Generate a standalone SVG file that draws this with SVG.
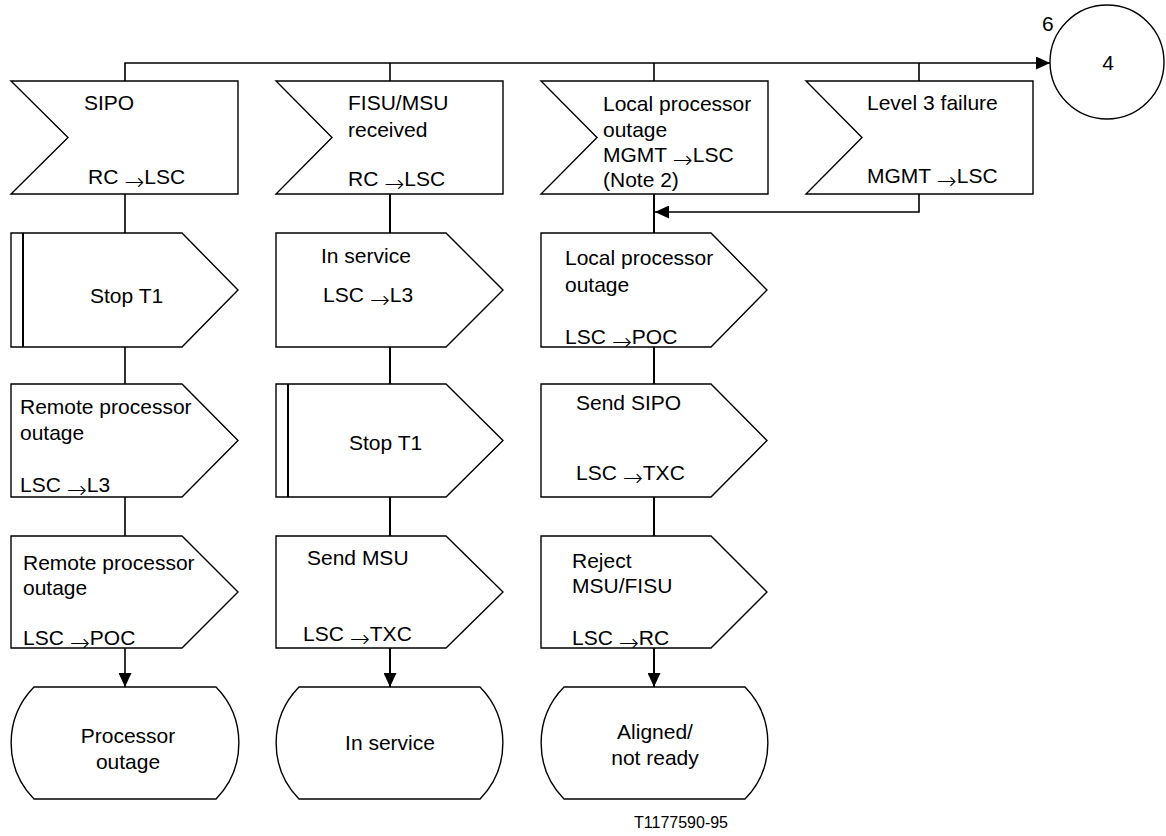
<svg xmlns="http://www.w3.org/2000/svg" width="1166" height="836" viewBox="0 0 1166 836">
<style>
.s{fill:#fff;stroke:#000;stroke-width:1.4}
.c{fill:none;stroke:#000;stroke-width:1.6}
.t{font-family:"Liberation Sans",Arial,sans-serif;font-size:21px;fill:#000}
.m{text-anchor:middle}
.a{font-family:"DejaVu Sans",sans-serif;font-size:24px;font-weight:200}
.f{font-family:"Liberation Sans",Arial,sans-serif;font-size:16px;fill:#000}
</style>
<defs>
<marker id="ah" viewBox="0 0 14 13" refX="14" refY="6.5" markerWidth="14" markerHeight="13" markerUnits="userSpaceOnUse" orient="auto">
<path d="M0,0 L14,6.5 L0,13 Z" fill="#000"/>
</marker>
</defs>
<g id="connectors">
<path class="c" d="M125,81 V63 H1050" marker-end="url(#ah)"/>
<path class="c" d="M390,63 V81 M654,63 V81 M919,63 V81"/>
<path class="c" d="M919,194 V212 H655" marker-end="url(#ah)"/>
<path class="c" d="M125,194 V233 M125,347 V384 M125,497 V536"/>
<path class="c" d="M390,194 V233 M390,347 V384 M390,497 V536" style="stroke-width:2"/>
<path class="c" d="M654,194 V233 M654,347 V384 M654,497 V536" style="stroke-width:2"/>
<path class="c" d="M125,648 V687" marker-end="url(#ah)"/>
<path class="c" d="M390,648 V687" marker-end="url(#ah)" style="stroke-width:2"/>
<path class="c" d="M654,648 V687" marker-end="url(#ah)" style="stroke-width:2"/>
</g>
<g id="connector-label">
<text class="t" x="1042" y="31">6</text>
</g>
<g id="conn4">
<circle class="s" cx="1107" cy="62" r="57"/>
<text class="t m" x="1108" y="70">4</text>
</g>
<g id="in-sipo">
<path class="s" d="M11,81 H238 V194 H11 L68,137.5 Z"/>
<text class="t" x="84" y="110">SIPO</text>
<text class="t" x="88" y="184">RC <tspan class="a" dy="6">→</tspan><tspan dy="-6">LSC</tspan></text>
</g>
<g id="in-fisu">
<path class="s" d="M276,81 H503 V194 H276 L332,137.5 Z"/>
<text class="t" x="348" y="110">FISU/MSU</text>
<text class="t" x="348" y="137">received</text>
<text class="t" x="348" y="186">RC <tspan class="a" dy="6">→</tspan><tspan dy="-6">LSC</tspan></text>
</g>
<g id="in-lpo">
<path class="s" d="M541,81 H768 V194 H541 L597,137.5 Z"/>
<text class="t" x="603" y="111">Local processor</text>
<text class="t" x="603" y="137">outage</text>
<text class="t" x="603" y="162">MGMT <tspan class="a" dy="6">→</tspan><tspan dy="-6">LSC</tspan></text>
<text class="t" x="603" y="187">(Note 2)</text>
</g>
<g id="in-l3f">
<path class="s" d="M806,81 H1033 V194 H806 L862,137.5 Z"/>
<text class="t" x="867" y="110">Level 3 failure</text>
<text class="t" x="867" y="183">MGMT <tspan class="a" dy="6">→</tspan><tspan dy="-6">LSC</tspan></text>
</g>
<g id="c1-stop">
<path class="s" d="M11,233 H182 L238,290 L182,347 H11 Z"/>
<path class="c" d="M23,233 V347" style="stroke-width:2"/>
<text class="t" x="90" y="303">Stop T1</text>
</g>
<g id="c1-rpo-l3">
<path class="s" d="M11,384 H182 L238,440.5 L182,497 H11 Z"/>
<text class="t" x="20" y="414">Remote processor</text>
<text class="t" x="20" y="440">outage</text>
<text class="t" x="20" y="492">LSC <tspan class="a" dy="6">→</tspan><tspan dy="-6">L3</tspan></text>
</g>
<g id="c1-rpo-poc">
<path class="s" d="M11,536 H182 L238,592 L182,648 H11 Z"/>
<text class="t" x="23" y="570">Remote processor</text>
<text class="t" x="23" y="595">outage</text>
<text class="t" x="23" y="645">LSC <tspan class="a" dy="6">→</tspan><tspan dy="-6">POC</tspan></text>
</g>
<g id="c1-state">
<path class="s" d="M34,687 H216 A80,80 0 0 1 216,799 H34 A80,80 0 0 1 34,687 Z"/>
<text class="t m" x="128" y="743">Processor</text>
<text class="t m" x="128" y="769">outage</text>
</g>
<g id="c2-insvc">
<path class="s" d="M276,233 H446 L503,290 L446,347 H276 Z"/>
<text class="t" x="321" y="263">In service</text>
<text class="t" x="323" y="302">LSC <tspan class="a" dy="6">→</tspan><tspan dy="-6">L3</tspan></text>
</g>
<g id="c2-stop">
<path class="s" d="M276,384 H446 L503,440.5 L446,497 H276 Z"/>
<path class="c" d="M288,384 V497" style="stroke-width:2"/>
<text class="t" x="349" y="450">Stop T1</text>
</g>
<g id="c2-send">
<path class="s" d="M276,536 H446 L503,592 L446,648 H276 Z"/>
<text class="t" x="307" y="565">Send MSU</text>
<text class="t" x="303" y="641">LSC <tspan class="a" dy="6">→</tspan><tspan dy="-6">TXC</tspan></text>
</g>
<g id="c2-state">
<path class="s" d="M299,687 H480 A80,80 0 0 1 480,799 H299 A80,80 0 0 1 299,687 Z"/>
<text class="t m" x="390" y="750">In service</text>
</g>
<g id="c3-lpo">
<path class="s" d="M541,233 H711 L767,290 L711,347 H541 Z"/>
<text class="t" x="565" y="265">Local processor</text>
<text class="t" x="565" y="292">outage</text>
<text class="t" x="565" y="344">LSC <tspan class="a" dy="6">→</tspan><tspan dy="-6">POC</tspan></text>
</g>
<g id="c3-sipo">
<path class="s" d="M541,384 H711 L767,440.5 L711,497 H541 Z"/>
<text class="t" x="576" y="410">Send SIPO</text>
<text class="t" x="576" y="480">LSC <tspan class="a" dy="6">→</tspan><tspan dy="-6">TXC</tspan></text>
</g>
<g id="c3-reject">
<path class="s" d="M541,536 H711 L767,592 L711,648 H541 Z"/>
<text class="t" x="572" y="568">Reject</text>
<text class="t" x="572" y="593">MSU/FISU</text>
<text class="t" x="572" y="645">LSC <tspan class="a" dy="6">→</tspan><tspan dy="-6">RC</tspan></text>
</g>
<g id="c3-state">
<path class="s" d="M564,687 H745 A80,80 0 0 1 745,799 H564 A80,80 0 0 1 564,687 Z"/>
<text class="t m" x="655" y="739">Aligned/</text>
<text class="t m" x="655" y="765">not ready</text>
</g>
<text class="f" x="634" y="828">T1177590-95</text>
</svg>
